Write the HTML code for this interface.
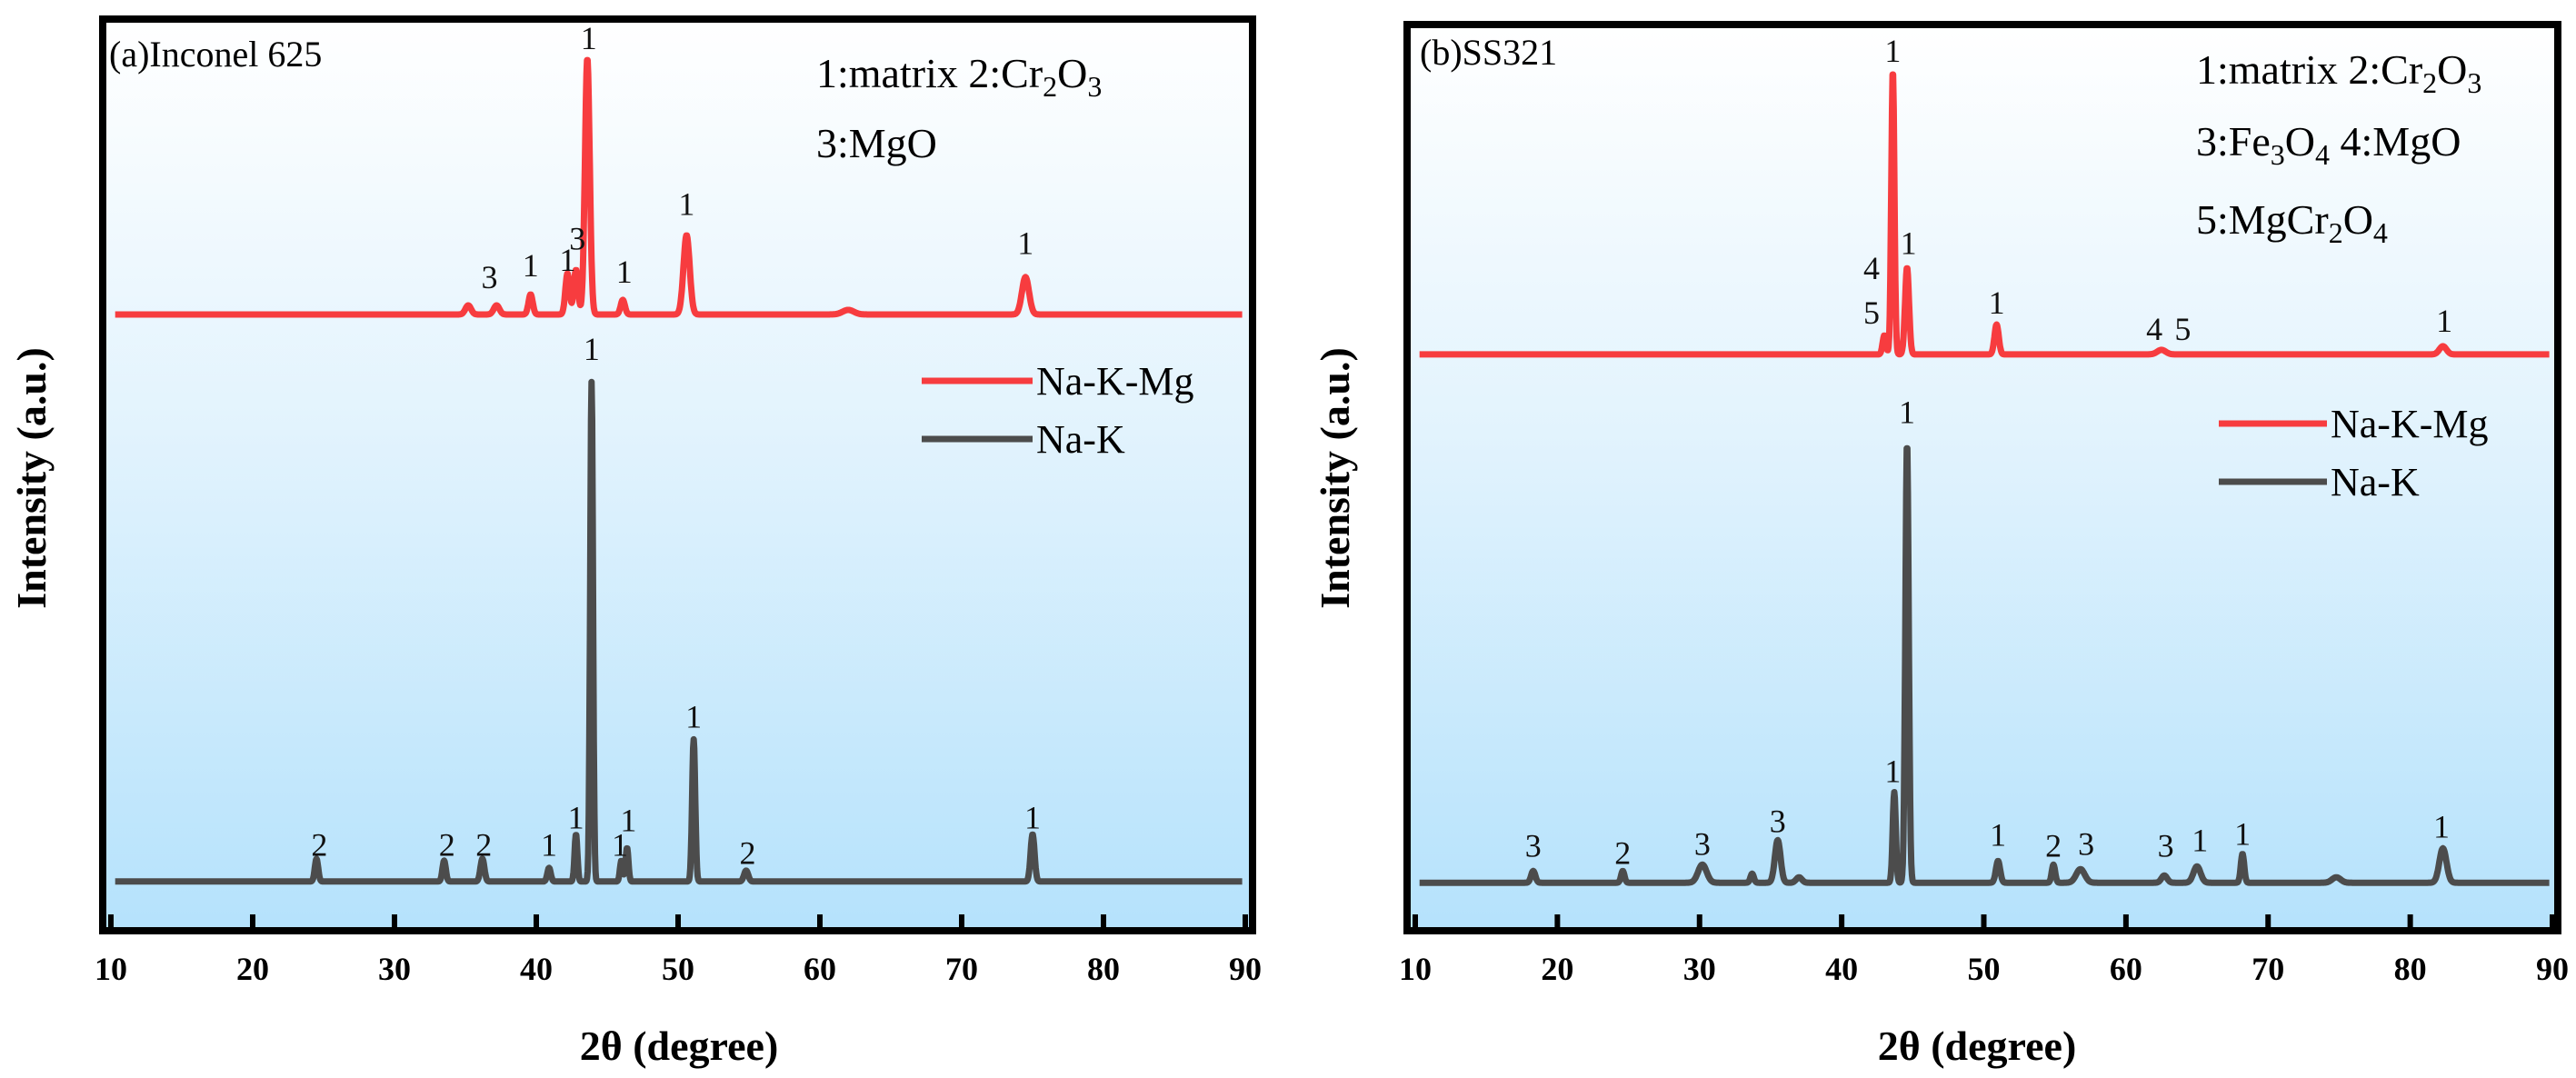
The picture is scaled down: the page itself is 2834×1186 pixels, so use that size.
<!DOCTYPE html>
<html><head><meta charset="utf-8"><style>
html,body{margin:0;padding:0;background:#fff;}
svg{display:block;}
text,tspan{font-family:"Liberation Serif","Times New Roman",serif;}
</style></head><body>
<svg id="chart" width="2834" height="1186" viewBox="0 0 2834 1186" xmlns="http://www.w3.org/2000/svg">
<defs>
<linearGradient id="bg" x1="0" y1="0" x2="0" y2="1">
<stop offset="0" stop-color="#ffffff"/>
<stop offset="0.45" stop-color="#e2f3fd"/>
<stop offset="1" stop-color="#b5e2fc"/>
</linearGradient>
</defs>
<g id="panelA"></g>
<g id="panelB"></g>
</svg>
<script>
// x tick values
const xTicks = [10,20,30,40,50,60,70,80,90];
// Panel (a) peaks: positions (deg), heights (a.u.), widths (deg)
const aRedPos = [35.2,37.2,39.6,42.2,42.8,43.6,46.1,50.6,62.0,74.5];
const aRedH   = [10,10,22,45,49,281,16,87,5,41];
const aRedW   = [0.2,0.2,0.15,0.15,0.15,0.17,0.15,0.22,0.4,0.25];
const aGrayPos = [24.5,33.5,36.2,40.9,42.8,43.9,46.0,46.4,51.1,54.8,75.0];
const aGrayH   = [25,23,25,15,52,548,23,37,156,12,52];
const aGrayW   = [0.12,0.12,0.14,0.12,0.1,0.1,0.1,0.1,0.11,0.15,0.14];
const aRedBase = 676, aGrayBase = 54;
// Panel (b)
const bRedPos = [43.0,43.6,44.6,50.9,62.5,82.3];
const bRedH   = [21,314,96,33,5,9];
const bRedW   = [0.12,0.11,0.14,0.15,0.3,0.25];
const bGrayPos = [18.3,24.6,30.2,33.7,35.5,37.0,43.7,44.6,51.0,54.9,56.8,62.7,65.0,68.2,74.8,82.3];
const bGrayH   = [13,13,20,10,47,6,100,486,24,20,15,8,18,32,6,38];
const bGrayW   = [0.15,0.12,0.3,0.12,0.2,0.2,0.11,0.12,0.15,0.12,0.3,0.2,0.25,0.12,0.3,0.25];
const bRedBase = 636, bGrayBase = 53;
// Peak labels: [deg, y(a.u.), text]
const aLabels = [[43.7,979,"1"],[50.6,797,"1"],[36.7,717,"3"],[39.6,730,"1"],[42.2,736,"1"],[42.9,759,"3"],[46.2,723,"1"],[74.5,754,"1"],
  [24.7,94,"2"],[33.7,94,"2"],[36.3,94,"2"],[40.9,94,"1"],[42.8,124,"1"],[43.9,638,"1"],[45.9,94,"1"],[46.5,121,"1"],[51.1,235,"1"],[54.9,85,"2"],[75.0,124,"1"]];
const bLabels = [[43.6,971,"1"],[42.1,731,"4"],[42.1,682,"5"],[44.7,759,"1"],[50.9,693,"1"],[62.0,664,"4"],[64.0,664,"5"],[82.4,673,"1"],
  [18.3,94,"3"],[24.6,86,"2"],[30.2,96,"3"],[35.5,121,"3"],[43.6,176,"1"],[44.6,572,"1"],[51.0,106,"1"],[54.9,94,"2"],[57.2,96,"3"],[62.8,94,"3"],[65.2,100,"1"],[68.2,107,"1"],[82.2,115,"1"]];

const NS="http://www.w3.org/2000/svg";
function mk(tag,attrs,parent){const e=document.createElementNS(NS,tag);for(const k in attrs)e.setAttribute(k,attrs[k]);parent.appendChild(e);return e;}

function panel(g,cfg){
  const L=cfg.x0,R=cfg.x1,T=cfg.top,B=cfg.bot;
  const xs=v=>cfg.px10+(v-10)*(cfg.px90-cfg.px10)/80;
  const ys=v=>B-v*(B-T)/1000;
  const bg=mk('rect',{x:L,y:T,width:R-L,height:B-T,fill:'url(#bg)'},g);
  
  
  function trace(pos,h,w,base,color,name){
    let d='';
    for(let x=10.3;x<=89.8;x+=0.04){
      let y=base;
      for(let i=0;i<pos.length;i++){const z=(x-pos[i])/w[i];y+=h[i]*Math.exp(-0.5*z*z);}
      d+=(d?'L':'M')+xs(x).toFixed(1)+','+ys(y).toFixed(1);
    }
    const p=mk('path',{d:d,fill:'none',stroke:color,'stroke-width':7,'stroke-linejoin':'round'},g);
    
    
  }
  trace(cfg.rp,cfg.rh,cfg.rw,cfg.rb,'#f73c3f','series-na-k-mg');
  trace(cfg.gp,cfg.gh,cfg.gw,cfg.gb,'#4c4c4c','series-na-k');
  cfg.labels.forEach(l=>{
    const t=mk('text',{x:xs(l[0]),y:ys(l[1])+12,'font-size':36,'text-anchor':'middle',fill:'#111'},g);
    t.textContent=l[2];
    
    
  });
  const fr=mk('rect',{x:L,y:T,width:R-L,height:B-T,fill:'none',stroke:'#000','stroke-width':8},g);
  
  
  xTicks.forEach(v=>{
    const tk=mk('line',{x1:xs(v),x2:xs(v),y1:B,y2:B-18,stroke:'#000','stroke-width':6},g);
    
    
    const tl=mk('text',{x:xs(v),y:1078,'font-size':36,'font-weight':'bold','text-anchor':'middle'},g);
    tl.textContent=v;
    
    
  });
}

const A=document.getElementById('panelA'),Bp=document.getElementById('panelB');
panel(A,{x0:113,x1:1378,top:21,bot:1024,px10:122,px90:1370,rp:aRedPos,rh:aRedH,rw:aRedW,rb:aRedBase,gp:aGrayPos,gh:aGrayH,gw:aGrayW,gb:aGrayBase,labels:aLabels});
panel(Bp,{x0:1548,x1:2814,top:27,bot:1024,px10:1557,px90:2808,rp:bRedPos,rh:bRedH,rw:bRedW,rb:bRedBase,gp:bGrayPos,gh:bGrayH,gw:bGrayW,gb:bGrayBase,labels:bLabels});
</script>
<svg style="position:absolute;left:0;top:0" width="2834" height="1186" xmlns="http://www.w3.org/2000/svg">
<text x="120" y="73" font-size="40">(a)Inconel 625</text>
<text x="898" y="96" font-size="46">1:matrix 2:Cr<tspan font-size="32" dy="10">2</tspan><tspan dy="-10">O</tspan><tspan font-size="32" dy="10">3</tspan></text>
<text x="898" y="173" font-size="46">3:MgO</text>
<line x1="1014" y1="419" x2="1136" y2="419" stroke="#f73c3f" stroke-width="7"/>
<text x="1140" y="434" font-size="44">Na-K-Mg</text>
<line x1="1014" y1="483" x2="1136" y2="483" stroke="#4c4c4c" stroke-width="7"/>
<text x="1140" y="498" font-size="44">Na-K</text>
<text transform="translate(50,526) rotate(-90)" font-size="46" font-weight="bold" text-anchor="middle">Intensity (a.u.)</text>
<text x="747" y="1166" font-size="46" font-weight="bold" text-anchor="middle">2θ (degree)</text>

<text x="1562" y="71" font-size="40">(b)SS321</text>
<text x="2416" y="92" font-size="46">1:matrix 2:Cr<tspan font-size="32" dy="10">2</tspan><tspan dy="-10">O</tspan><tspan font-size="32" dy="10">3</tspan></text>
<text x="2416" y="171" font-size="46">3:Fe<tspan font-size="32" dy="10">3</tspan><tspan dy="-10">O</tspan><tspan font-size="32" dy="10">4</tspan><tspan dy="-10"> 4:MgO</tspan></text>
<text x="2416" y="257" font-size="46">5:MgCr<tspan font-size="32" dy="10">2</tspan><tspan dy="-10">O</tspan><tspan font-size="32" dy="10">4</tspan></text>
<line x1="2441" y1="466" x2="2560" y2="466" stroke="#f73c3f" stroke-width="7"/>
<text x="2564" y="481" font-size="44">Na-K-Mg</text>
<line x1="2441" y1="530" x2="2560" y2="530" stroke="#4c4c4c" stroke-width="7"/>
<text x="2564" y="545" font-size="44">Na-K</text>
<text transform="translate(1484,526) rotate(-90)" font-size="46" font-weight="bold" text-anchor="middle">Intensity (a.u.)</text>
<text x="2175" y="1166" font-size="46" font-weight="bold" text-anchor="middle">2θ (degree)</text>
</svg>
</body></html>
